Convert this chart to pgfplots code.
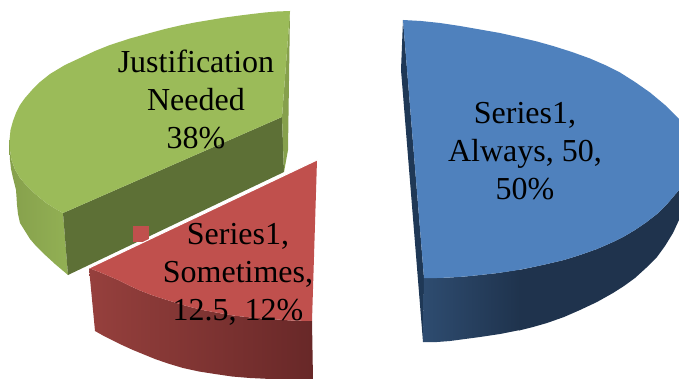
\documentclass[border=0pt]{standalone}
\usepackage{pgfplots}
\pgfplotsset{compat=1.18}
\usepackage{fontspec}
\setmainfont{Liberation Serif}
\definecolor{blueTop}{RGB}{79,129,189}
\definecolor{blueEdge}{RGB}{31,56,86}
\definecolor{blueSideL}{RGB}{46,76,112}
\definecolor{blueSideR}{RGB}{31,51,77}
\definecolor{greenTop}{RGB}{155,187,89}
\definecolor{greenCut}{RGB}{93,112,54}
\definecolor{greenSideL}{RGB}{134,160,76}
\definecolor{greenSideR}{RGB}{146,176,84}
\definecolor{greenStrip}{RGB}{134,160,76}
\definecolor{redTop}{RGB}{192,80,77}
\definecolor{redSideL}{RGB}{150,64,61}
\definecolor{redSideR}{RGB}{104,40,40}
\tikzset{slice label/.style={font=\fontsize{32}{38}\selectfont, align=center, inner sep=0pt, text=black}}
\begin{document}
\begin{tikzpicture}
\begin{axis}[
  hide axis, scale only axis, width=679pt, height=379pt,
  xmin=0, xmax=679, ymin=0, ymax=379, y dir=reverse,
  enlargelimits=false,
]
% Keep the full frame in the picture's bounding box
\path (rel axis cs:0,0) rectangle (rel axis cs:1,1);
% Needed slice: outer wall, cut face, thin end wall, top
\addplot[draw=none, left color=greenSideL, right color=greenSideR] coordinates {
 (9.5,140) (10,150) (11.5,160) (15,169.5) (20,178) (26,185) (33,192) (40,198) (47,203.5) (55,208.5) (63,213)
 (68,275) (55,264) (43,253) (36,246) (30,239) (25,231) (20,223) (18,214) (17,205) (16.5,197) (16,190) (14.5,184) (13,178) (11,169) (10,160) (9.5,150)} --cycle;
\addplot[draw=none, fill=greenCut] coordinates {
 (63,213) (282,117) (284,172) (68,275)} --cycle;
\addplot[draw=none, fill=greenStrip] coordinates {
 (290,11) (282,117) (284,172) (288,150)} --cycle;
\addplot[draw=none, fill=greenTop] coordinates {
 (290,11) (277,11.5) (265,12.5) (252,14) (240,15.5) (225,17.5) (210,20) (195,22.5) (180,25.5) (165,29) (150,33) (130,38.5) (110,45) (95,51) (80,58) (65,65) (50,74) (40,82) (32,90) (25,98) (20,105) (16,113) (13,121) (10.5,130) (9.5,140) (10,150) (11.5,160) (15,169.5) (20,178) (26,185) (33,192) (40,198) (47,203.5) (55,208.5) (63,213) (282,117)} --cycle;
% Small key square beside the middle slice
\addplot[draw=none, fill=redTop] coordinates {(133,226) (149,226) (149,242) (133,242)} --cycle;
% Sometimes slice: outer wall, top, bright rim along the gap
\addplot[draw=none, left color=redSideL, right color=redSideR] coordinates {
 (89,268) (103,273.5) (117,279.5) (128,285) (140,290.5) (153,295.5) (167,300) (183,305) (200,309.5) (216,312.5) (233,315.5) (251,317.5) (270,319) (291,320.5) (312,321)
 (313,380) (281,379.5) (250,378) (232,376.5) (215,374) (199,371.5) (183,368) (168,363.5) (155,359) (144,354.5) (133,350) (122,345) (112,340) (103,335.5) (95,331)} --cycle;
\addplot[draw=none, fill=redTop] coordinates {
 (317,160) (89,268) (103,273.5) (117,279.5) (128,285) (140,290.5) (153,295.5) (167,300) (183,305) (200,309.5) (216,312.5) (233,315.5) (251,317.5) (270,319) (291,320.5) (312,321)} --cycle;
\addplot[white, line width=1pt] coordinates {(87,269) (317,160)};
% Always slice: end strip, outer wall in two shaded parts, top
\addplot[draw=none, fill=blueEdge] coordinates {(403,20) (424,278) (423,342) (401,70)} --cycle;
\addplot[draw=none, left color=blueSideL, right color=blueSideR] coordinates {
 (424,278) (437,278) (450,277.5) (465,276.5) (480,275) (498,273) (520,269.5) (520,330) (500,334) (480,337) (465,339) (450,341) (437,342) (423,342)} --cycle;
\addplot[draw=none, fill=blueSideR] coordinates {
 (519,270) (531,267.5) (547,264) (564,260) (580,255) (597,249) (613,242) (624,236.5) (635,230) (646,222.5) (657,214) (668,203) (679,190)
 (679,220) (673,233) (665,246) (657,257) (646,268) (635,278) (624,286) (613,293) (597,302) (580,310) (564,317) (547,323) (533,327) (519,330.5)} --cycle;
\addplot[draw=none, fill=blueTop] coordinates {
 (403,20) (421,21) (440,23) (460,26) (480,29.5) (500,33) (520,37.5) (537,41.5) (553,46) (572,52) (590,58.5) (605,65) (620,72.5) (635,82) (650,92.5) (665,105) (679,119)
 (687,133) (692,150) (689,170) (679,190) (668,203) (657,214) (646,222.5) (635,230) (624,236.5) (613,242) (597,249) (580,255) (564,260) (547,264) (531,267.5) (515,270.5) (498,273) (480,275) (465,276.5) (450,277.5) (437,278) (424,278)} --cycle;
% Slice labels
\node[slice label] at (axis cs:196,99.5) {Justification\\Needed\\38\%};
\node[slice label] at (axis cs:525,151) {Series1,\\Always, 50,\\50\%};
\node[slice label] at (axis cs:238,274) {Series1,\\Sometimes,\\12.5, 12\%};
\end{axis}
\end{tikzpicture}
\end{document}
